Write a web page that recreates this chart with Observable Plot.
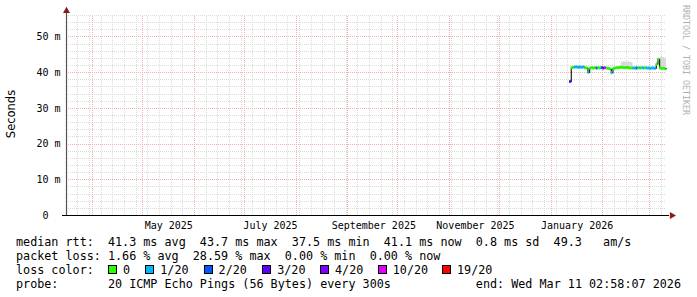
<!DOCTYPE html>
<html><head><meta charset="utf-8">
<script src="https://cdn.jsdelivr.net/npm/d3@7"></script>
<script src="https://cdn.jsdelivr.net/npm/@observablehq/plot@0.6"></script>
<style>
html,body{margin:0;padding:0;background:#fff;}
#wrap{position:relative;width:697px;height:297px;overflow:hidden;background:#fff;}
#wrap svg{position:absolute;left:0;top:0;}
.leg{position:absolute;white-space:pre;font-family:"DejaVu Sans Mono",monospace;font-size:11.75px;line-height:14px;color:#000;}
.box{position:absolute;width:9px;height:9px;box-sizing:border-box;border:1px solid #000;}
</style></head><body><div id="wrap"></div>
<script>
// ---- data ----
const days = ["2026-01-12","2026-01-13","2026-01-14","2026-01-15","2026-01-16","2026-01-17","2026-01-18","2026-01-19","2026-01-20","2026-01-21",
  "2026-01-22","2026-01-23","2026-01-24","2026-01-25","2026-01-26","2026-01-27","2026-01-28","2026-01-29","2026-01-30","2026-01-31",
  "2026-02-01","2026-02-02","2026-02-03","2026-02-04","2026-02-05","2026-02-06","2026-02-07","2026-02-08","2026-02-09","2026-02-10",
  "2026-02-11","2026-02-12","2026-02-13","2026-02-14","2026-02-15","2026-02-16","2026-02-17","2026-02-18","2026-02-19","2026-02-20",
  "2026-02-21","2026-02-22","2026-02-23","2026-02-24","2026-02-25","2026-02-26","2026-02-27","2026-02-28","2026-03-01","2026-03-02",
  "2026-03-03","2026-03-04","2026-03-05","2026-03-06","2026-03-07","2026-03-08","2026-03-09","2026-03-10"];
const medianMs = [37.5,41.4,41.5,41.6,41.6,41.5,41.6,41.5,41.6,41.4,
  41.3,40.1,41.2,41.4,41.3,41.4,41.3,41.4,41.3,41.4,
  41.3,41.4,41.3,41.2,41.0,40.0,41.1,41.3,41.4,41.4,
  41.5,41.5,41.4,41.4,41.5,41.4,41.3,41.3,41.3,41.3,
  41.3,41.4,41.3,41.4,41.3,41.4,41.3,41.3,41.2,41.3,
  41.3,41.2,42.4,43.7,41.3,41.2,41.2,41.1];
const lossCount = [3,0,0,1,1,1,1,1,1,0,
  0,1,0,0,0,0,2,0,0,2,
  3,10,0,0,0,1,0,0,0,0,
  0,0,0,0,0,0,0,0,1,1,
  2,0,1,0,1,0,1,1,1,1,
  1,1,0,0,0,0,0,0];
const smokeDays = ["2026-02-12","2026-02-13","2026-02-14","2026-02-15","2026-02-16","2026-02-17","2026-02-18","2026-03-07","2026-03-08","2026-03-09","2026-03-10"];
const smokeLo = [41.2,41.2,41.2,41.2,41.2,41.2,41.2,41.0,41.0,41.0,41.0];
const smokeHi = [42.9,43.0,43.0,42.9,43.0,42.9,42.8,44.2,44.3,44.2,44.0];
const lossLevels = [0,1,2,3,4,10,19];
const lossLabels = ["0","1/20","2/20","3/20","4/20","10/20","19/20"];
const lossColors = ["#26ff00","#00b8ff","#0059ff","#5e00ff","#7e00ff","#dd00ff","#ff0000"];
const yTicks = [0,10,20,30,40,50];
const xLabelDates = ["2025-05-16T12:00:00Z","2025-07-16T12:00:00Z","2025-09-16T12:00:00Z","2025-11-16T12:00:00Z","2026-01-16T12:00:00Z"];
const xLabelText = ["May 2025","July 2025","September 2025","November 2025","January 2026"];
const legendMedian = ["median rtt:","41.3 ms avg","43.7 ms max","37.5 ms min","41.1 ms now","0.8 ms sd","49.3   am/s"];
const legendLoss = ["packet loss:","1.66 % avg","28.59 % max","0.00 % min","0.00 % now"];
const legendColorTitle = "loss color:";
const legendProbe = ["probe:","20 ICMP Echo Pings (56 Bytes) every 300s","end: Wed Mar 11 02:58:07 2026"];
const yLabel = "Seconds";
const watermark = "RRDTOOL / TOBI OETIKER";
const startTime = "2025-03-16T02:58:07Z", endTime = "2026-03-11T02:58:07Z";

// ---- layout ----
const x0 = new Date(startTime), x1 = new Date(endTime);
const yTop = 56;
const colorFor = c => { let k = 0; lossLevels.forEach((l,i)=>{ if (c >= l) k = i; }); return lossColors[k]; };
const data = days.map((d,i)=>{ const t = new Date(d + "T00:00:00Z"); return {date:t, next:d3.utcDay.offset(t,1), ms:medianMs[i], color:colorFor(lossCount[i])}; });
const linePts = data.map(d=>({date:d.date, ms:d.ms})).concat([{date:data[data.length-1].next, ms:data[data.length-1].ms}]);
const smoke = smokeDays.map((d,i)=>{ const t = new Date(d + "T00:00:00Z"); return {date:t, next:d3.utcDay.offset(t,1), lo:smokeLo[i], hi:smokeHi[i]}; });
const minorX = d3.utcSunday.range(x0, x1);
const majorX = d3.utcMonth.range(x0, x1);
const minorY = d3.range(2, yTop + 0.1, 2).filter(v => v % 10 !== 0);
const majorY = [10,20,30,40,50];
const labelDates = xLabelDates.map(s => new Date(s));
const dash = "1,1";
const crisp = "crispEdges";

const chart = Plot.plot({
  width: 697, height: 232,
  marginLeft: 66, marginRight: 31, marginTop: 15, marginBottom: 17,
  style: {fontFamily: "'DejaVu Sans Mono', monospace", fontSize: "10px", background: "transparent", overflow: "visible", color: "#000"},
  x: {type: "utc", domain: [x0, x1], label: null},
  y: {domain: [0, yTop], label: null},
  marks: [
    Plot.ruleX(minorX, {y1: 0, y2: yTop, stroke: "#dcdcdc", strokeDasharray: dash, shapeRendering: crisp}),
    Plot.ruleY(minorY, {x1: x0, x2: x1, stroke: "#dcdcdc", strokeDasharray: dash, shapeRendering: crisp}),
    Plot.ruleX(majorX, {y1: 0, y2: yTop, stroke: "#f0b0b0", strokeDasharray: dash, shapeRendering: crisp}),
    Plot.ruleY(majorY, {x1: x0, x2: x1, stroke: "#f0b0b0", strokeDasharray: dash, shapeRendering: crisp}),
    Plot.rectY(smoke, {x1: "date", x2: "next", y1: "lo", y2: "hi", fill: "#d6d6d6", inset: 0}),
    Plot.line(linePts, {x: "date", y: "ms", stroke: "#202020", strokeWidth: 1.2, curve: "step-after"}),
    Plot.ruleY(data, {x1: "date", x2: "next", y: "ms", stroke: "color", strokeWidth: 3}),
    Plot.ruleX([x0], {y1: 0, y2: yTop + 0.8, stroke: "#555", strokeWidth: 1.2}),
    Plot.ruleY([0], {x1: d3.utcHour.offset(x0, -60), x2: d3.utcHour.offset(x1, 40), stroke: "#000", shapeRendering: crisp}),
    Plot.dot([{t: x0, v: yTop + 1.3}], {x: "t", y: "v", symbol: "triangle", r: 2.6, fill: "#8b1a1a", stroke: null}),
    Plot.dot([{t: d3.utcHour.offset(x1, 78), v: 0}], {x: "t", y: "v", symbol: "triangle", r: 2.6, fill: "#8b1a1a", stroke: null, rotate: 90}),
    Plot.axisY(yTicks, {tickSize: 0, tickPadding: 6, tickFormat: v => v === 0 ? "0\u00a0\u00a0" : v + " m"}),
    Plot.axisX(labelDates, {tickSize: 0, tickPadding: 6, tickFormat: d => xLabelText[labelDates.findIndex(e => +e === +d)]})
  ]
});
const wrap = document.getElementById("wrap");
wrap.appendChild(chart);

function addText(txt, left, top, extra) {
  const el = document.createElement("div");
  el.className = "leg";
  el.textContent = txt;
  el.style.left = left + "px";
  el.style.top = top + "px";
  if (extra) Object.assign(el.style, extra);
  wrap.appendChild(el);
  return el;
}
// y label and watermark
addText(yLabel, 11, 114, {fontFamily: "'DejaVu Sans', sans-serif", fontSize: "11.5px", transform: "translate(-50%,-50%) rotate(-90deg)"});
addText(watermark, 682, 5, {fontSize: "8.3px", lineHeight: "8px", writingMode: "vertical-rl", color: "#b0b0b0"});

const charW = 7.07, col2 = 13, legLeft = 16;
const rowTops = [235, 248.6, 262.6, 276.6];
const boxLeft = [108, 145.3, 203.6, 262.2, 320, 377.8, 442];
addText(legendMedian[0], legLeft, rowTops[0]);
addText(legendMedian.slice(1).join("  "), legLeft + col2 * charW, rowTops[0]);
addText(legendLoss[0], legLeft, rowTops[1]);
addText(legendLoss.slice(1).join("  "), legLeft + col2 * charW, rowTops[1]);
addText(legendColorTitle, legLeft, rowTops[2]);
lossLabels.forEach((s,i) => {
  const b = document.createElement("div");
  b.className = "box";
  b.style.left = boxLeft[i] + "px";
  b.style.top = (rowTops[2] + 2.5) + "px";
  b.style.background = lossColors[i];
  wrap.appendChild(b);
  addText(s, boxLeft[i] + 15, rowTops[2]);
});
addText(legendProbe[0], legLeft, rowTops[3]);
addText(legendProbe[1], legLeft + col2 * charW, rowTops[3]);
const endEl = addText(legendProbe[2], 0, rowTops[3]);
endEl.style.left = "auto"; endEl.style.right = (697 - 681) + "px";
</script></body></html>
